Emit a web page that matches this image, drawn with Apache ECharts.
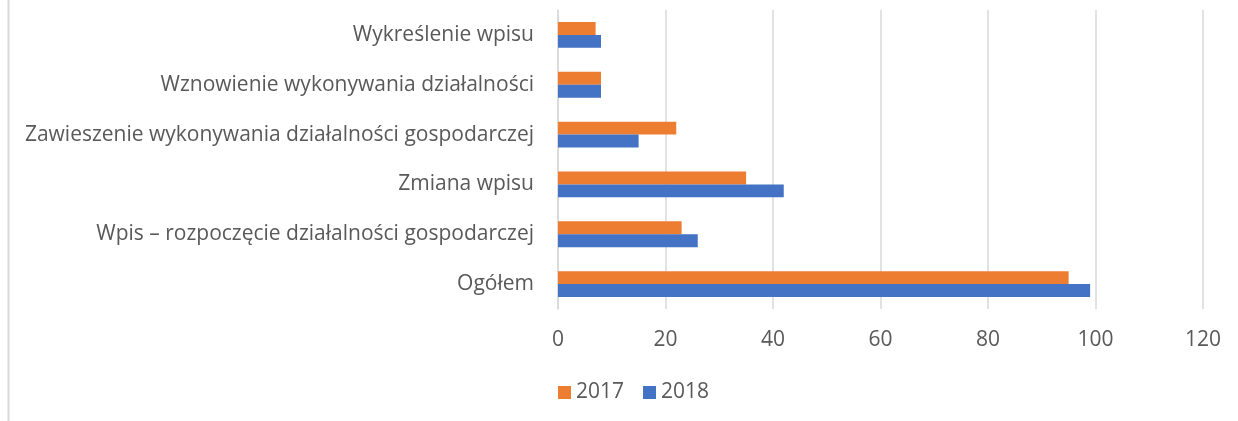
<!DOCTYPE html>
<html>
<head>
<meta charset="utf-8">
<script src="https://cdn.jsdelivr.net/npm/echarts@6/dist/echarts.min.js"></script>
<style>
html,body{margin:0;padding:0;background:#fff;}
#chart{width:1238px;height:421px;}
</style>
</head>
<body>
<div id="chart"></div>
<script>
const categories = ['Ogółem', 'Wpis – rozpoczęcie działalności gospodarczej', 'Zmiana wpisu', 'Zawieszenie wykonywania działalności gospodarczej', 'Wznowienie wykonywania działalności', 'Wykreślenie wpisu'];
const values2017 = [95, 23, 35, 22, 8, 7];
const values2018 = [99, 26, 42, 15, 8, 8];
const xTicks = [0, 20, 40, 60, 80, 100, 120];

const FONT = '"Open Sans", sans-serif';
const FS = 21;
const chart = echarts.init(document.getElementById('chart'), null, {renderer: 'canvas'});
chart.setOption({
  animation: false,
  backgroundColor: '#ffffff',
  textStyle: {fontFamily: FONT},
  graphic: [{
    type: 'line', shape: {x1: 8.5, y1: 0, x2: 8.5, y2: 421},
    style: {stroke: '#d9d9d9', lineWidth: 2}
  }],
  grid: {left: 558, right: 35, top: 10, bottom: 112, containLabel: false},
  legend: {
    data: ['2017', '2018'],
    bottom: 13,
    left: 553,
    itemWidth: 13, itemHeight: 13, itemGap: 19,
    icon: 'rect',
    textStyle: {fontSize: FS, color: '#595959', fontFamily: FONT}
  },
  xAxis: {
    type: 'value', min: xTicks[0], max: xTicks[xTicks.length - 1], interval: 20,
    axisLine: {show: false}, axisTick: {show: false},
    splitLine: {lineStyle: {color: '#d9d9d9', width: 1.5}},
    axisLabel: {fontSize: FS, color: '#595959', margin: 21, fontFamily: FONT}
  },
  yAxis: {
    type: 'category', data: categories,
    axisLine: {show: true, lineStyle: {color: '#d9d9d9', width: 1.5}},
    axisTick: {show: false},
    axisLabel: {fontSize: FS, color: '#595959', margin: 24, fontFamily: FONT, padding: [4, 0, 0, 0]}
  },
  series: [
    {name: '2017', type: 'bar', data: values2017, itemStyle: {color: '#ed7d31'}, barGap: '0%', barCategoryGap: '48%'},
    {name: '2018', type: 'bar', data: values2018, itemStyle: {color: '#4472c4'}, barGap: '0%', barCategoryGap: '48%'}
  ]
});
</script>
</body>
</html>
